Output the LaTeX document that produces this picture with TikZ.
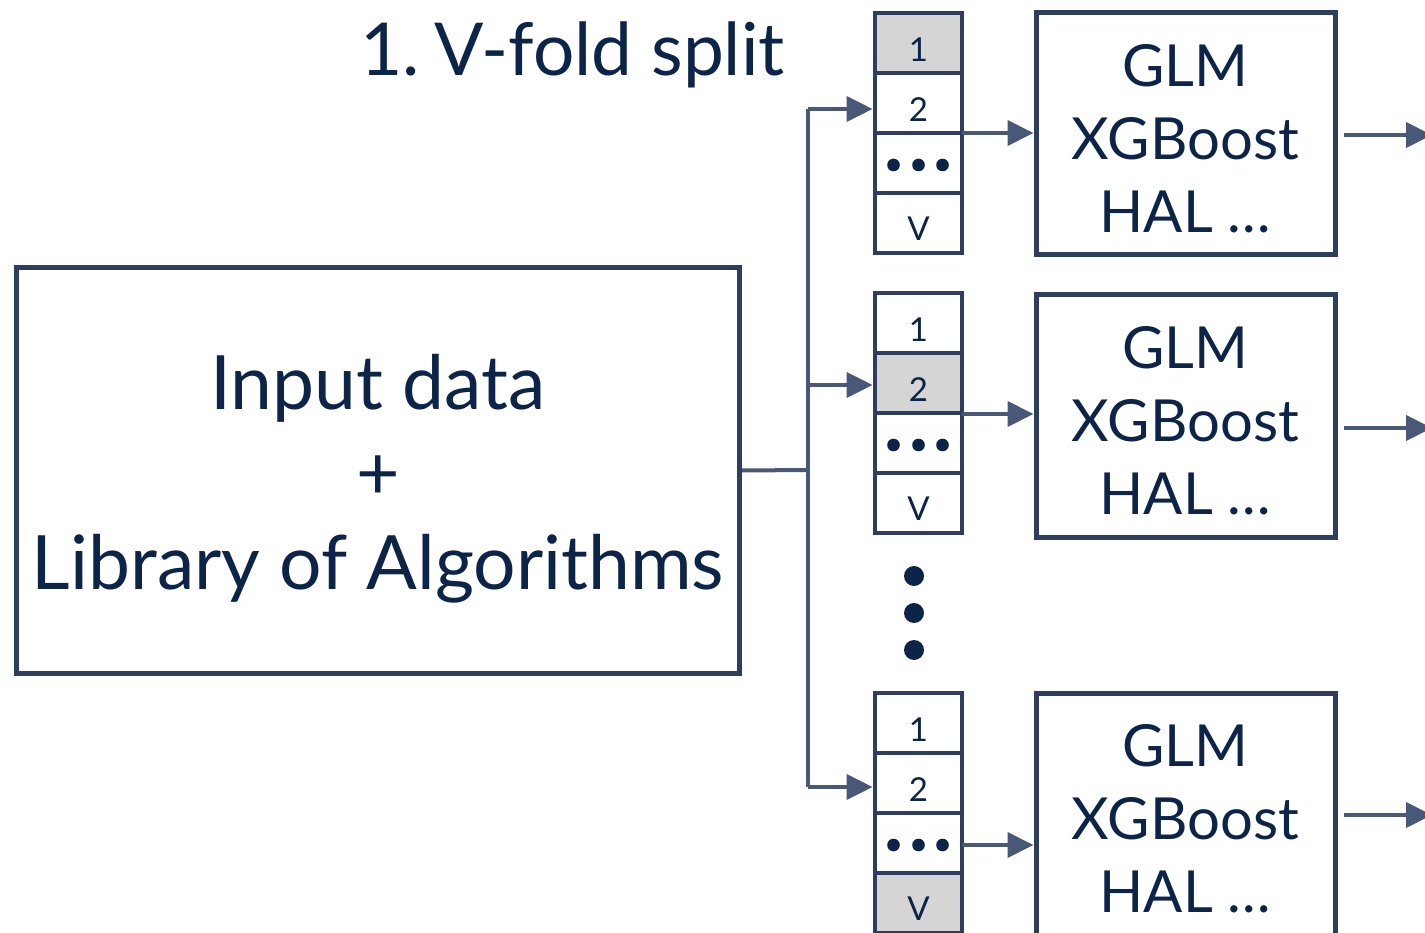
\documentclass[tikz,border=0pt]{standalone}
\usepackage{fontspec}
\setmainfont{Lato}
\usetikzlibrary{arrows.meta}
\definecolor{bord}{HTML}{2E3E5E}
\definecolor{arr}{HTML}{4A5878}
\definecolor{txt}{HTML}{0C2447}
\definecolor{shade}{HTML}{D5D5D5}
\tikzset{
  cell/.style={draw=bord, line width=4.8pt, minimum width=87pt, minimum height=60pt, inner sep=0pt},
  lab/.style={text=txt, font=\fontsize{33}{33}\selectfont, inner sep=0pt},
  model/.style={draw=bord, line width=5pt, minimum width=299pt, minimum height=242pt, inner sep=0pt},
  modeltext/.style={text=txt, align=center, font=\fontsize{58}{73}\selectfont, inner sep=0pt},
  conn/.style={draw=arr, line width=4pt},
  arrow/.style={conn, -{Triangle[length=26pt,width=25pt]}},
}
\begin{document}
\frenchspacing
\begin{tikzpicture}[x=1pt,y=-1pt]
\useasboundingbox (0,0) rectangle (1425,933);

% title
\node[text=txt, font=\fontsize{73}{73}\selectfont, anchor=base east, inner sep=0pt] (title) at (785,76) {1.\hspace{0.2em}V-fold split};

% input box
\node[draw=bord, line width=5pt, minimum width=723pt, minimum height=406pt, inner sep=0pt] (inp) at (378,470.5) {};
\node[text=txt, align=center, font=\fontsize{75}{90}\selectfont, inner sep=0pt] (inptext) at (378,479) {Input data\\+\\Library of Algorithms};

% stacks
\foreach \s/\top/\g in {1/13/1, 2/293/2, 3/693/4} {
  \foreach \r in {1,2,3,4} {
    \pgfmathsetmacro{\cy}{\top+30+60*(\r-1)}
    \ifnum\r=\g
      \node[cell, fill=shade] (s\s c\r) at (918.5,\cy) {};
    \else
      \node[cell, fill=white] (s\s c\r) at (918.5,\cy) {};
    \fi
  }
  \node[lab] at ([yshift=-7pt]s\s c1.center) {1};
  \node[lab] at ([yshift=-7pt]s\s c2.center) {2};
  \node[lab] at ([yshift=-6pt]s\s c4.center) {V};
  \fill[txt] ([xshift=-25pt,yshift=-2pt]s\s c3.center) circle (6.3pt);
  \fill[txt] ([yshift=-2pt]s\s c3.center) circle (6.3pt);
  \fill[txt] ([xshift=24pt,yshift=-2pt]s\s c3.center) circle (6.3pt);
}

% model boxes
\node[model] (m1) at (1185.5,134) {};
\node[model] (m2) at (1185.5,416) {};
\node[model] (m3) at (1185.5,814) {};
\node[modeltext] at ([yshift=-5pt]m1.center) {GLM\\XGBoost\\HAL …};
\node[modeltext] at ([yshift=-5pt]m2.center) {GLM\\XGBoost\\HAL …};
\node[modeltext] at ([yshift=-5pt]m3.center) {GLM\\XGBoost\\HAL …};

% vertical dots
\fill[txt] (914,576) circle (10pt);
\fill[txt] (914,613) circle (10pt);
\fill[txt] (914,650) circle (10pt);

% left connectors
\coordinate (jmid) at (808,470);
\coordinate (jtop) at (808,109);
\coordinate (jm2) at (808,385);
\coordinate (jbot) at (808,787);
\draw[conn] (inp.east) -- (jmid);
\draw[conn] (jtop) -- (jbot);
\draw[arrow] (jtop) -- (jtop -| s1c2.west);
\draw[arrow] (jm2) -- (jm2 -| s2c2.west);
\draw[arrow] (jbot) -- (jbot -| s3c2.west);

% stack to models
\coordinate (o1) at (962,133);
\coordinate (o2) at (962,414);
\coordinate (o3) at (962,845);
\draw[arrow] (o1) -- (o1 -| m1.west);
\draw[arrow] (o2) -- (o2 -| m2.west);
\draw[arrow] (o3) -- (o3 -| m3.west);

% outputs
\coordinate (e1) at (1432,135);
\coordinate (e2) at (1432,428);
\coordinate (e3) at (1432,815);
\draw[arrow] ([xshift=6pt]m1.east |- e1) -- (e1);
\draw[arrow] ([xshift=6pt]m2.east |- e2) -- (e2);
\draw[arrow] ([xshift=6pt]m3.east |- e3) -- (e3);
\end{tikzpicture}
\end{document}
